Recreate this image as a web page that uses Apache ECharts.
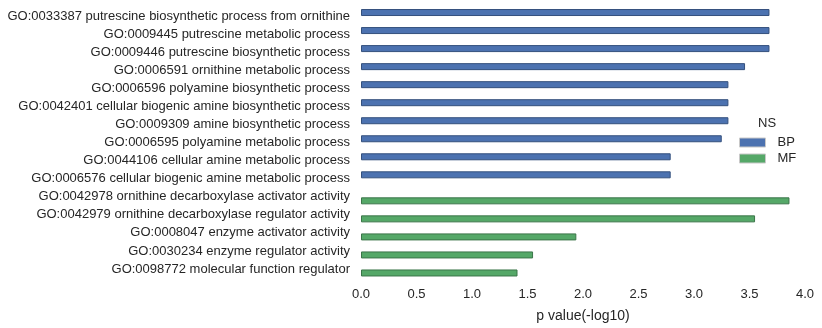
<!DOCTYPE html>
<html><head><meta charset="utf-8">
<script src="https://cdn.jsdelivr.net/npm/echarts@6/dist/echarts.min.js"></script>
<style>html,body{margin:0;padding:0;background:#fff}#c{width:822px;height:328px}</style>
</head><body><div id="c"></div>
<script>
var categories = [
 "GO:0033387 putrescine biosynthetic process from ornithine",
 "GO:0009445 putrescine metabolic process",
 "GO:0009446 putrescine biosynthetic process",
 "GO:0006591 ornithine metabolic process",
 "GO:0006596 polyamine biosynthetic process",
 "GO:0042401 cellular biogenic amine biosynthetic process",
 "GO:0009309 amine biosynthetic process",
 "GO:0006595 polyamine metabolic process",
 "GO:0044106 cellular amine metabolic process",
 "GO:0006576 cellular biogenic amine metabolic process",
 "GO:0042978 ornithine decarboxylase activator activity",
 "GO:0042979 ornithine decarboxylase regulator activity",
 "GO:0008047 enzyme activator activity",
 "GO:0030234 enzyme regulator activity",
 "GO:0098772 molecular function regulator"
];
var bpValues = [3.68, 3.68, 3.68, 3.46, 3.31, 3.31, 3.31, 3.25, 2.79, 2.79, null, null, null, null, null];
var mfValues = [null, null, null, null, null, null, null, null, null, null, 3.86, 3.55, 1.94, 1.55, 1.41];
var xTicks = [0, 0.5, 1, 1.5, 2, 2.5, 3, 3.5, 4];

var chart = echarts.init(document.getElementById('c'), null, {renderer:'canvas'});
var font = 'Liberation Sans, Arial, sans-serif';
chart.setOption({
  animation: false,
  backgroundColor: '#ffffff',
  textStyle: {fontFamily: font},
  title: {text: 'NS', left: 758, top: 117, padding: 0, textStyle: {fontSize: 13, fontWeight: 'normal', color: '#262626', fontFamily: font}},
  legend: {
    orient: 'vertical', left: 739, top: 136, padding: 0, itemWidth: 26, itemHeight: 9, itemGap: 3,
    icon: 'rect',
    itemStyle: {borderColor: '#c8c8c8', borderWidth: 1},
    textStyle: {fontSize: 13, color: '#262626', fontFamily: font, padding: [0,0,0,7]},
    data: ['BP', 'MF']
  },
  grid: {left: 361, right: 17, top: 7.5, bottom: 47.5, containLabel: false},
  xAxis: {
    type: 'value', min: xTicks[0], max: xTicks[xTicks.length-1], interval: 0.5,
    axisLine: {show: false}, axisTick: {show: false}, splitLine: {show: false},
    axisLabel: {fontSize: 13, color: '#262626', margin: 10, formatter: function(v){return v.toFixed(1);}},
    name: 'p value(-log10)', nameLocation: 'middle', nameGap: 31,
    nameTextStyle: {fontSize: 14, color: '#262626'}
  },
  yAxis: {
    type: 'category', data: categories, inverse: true,
    axisLine: {show: false}, axisTick: {show: false}, splitLine: {show: false},
    axisLabel: {fontSize: 13, color: '#262626', margin: 11}
  },
  series: [
    {name: 'BP', type: 'bar', data: bpValues, barWidth: 7, barGap: '14%',
     itemStyle: {color: '#4C72B0', borderColor: '#34507d', borderWidth: 1}},
    {name: 'MF', type: 'bar', data: mfValues, barWidth: 7, barGap: '14%',
     itemStyle: {color: '#55A868', borderColor: '#3b7549', borderWidth: 1}}
  ]
});
</script></body></html>
